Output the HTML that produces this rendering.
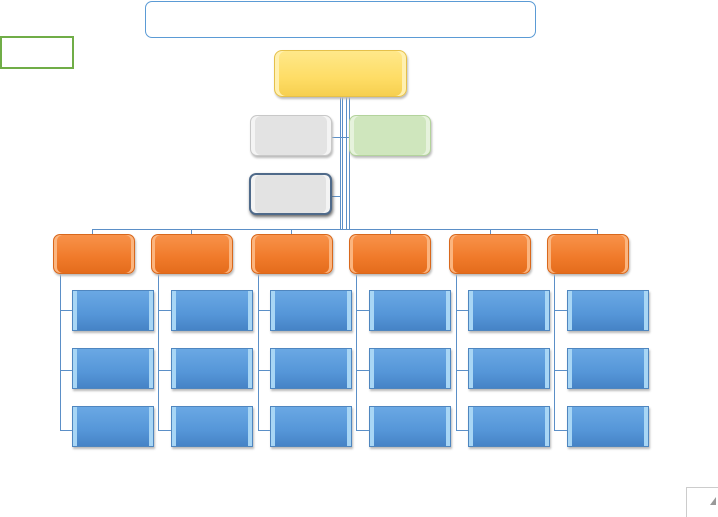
<!DOCTYPE html><html><head><style>
body{margin:0;width:718px;height:512px;background:#fff;position:relative;overflow:hidden}
div{position:absolute;box-sizing:border-box}
.l{background:#5b8fc7}
.o{background:linear-gradient(#f8924a,#f07a2a 60%,#e46c1c);border:1px solid #d9681c;border-radius:7px;box-shadow:inset 3px 0 0 #fbb57f,inset -3px 0 0 #fbb57f,1px 2px 2px #bbb;height:40px;width:82px;top:234px}
.b{background:linear-gradient(#6aa8e4,#5596d8 60%,#4683c6);border:1px solid #4f86bf;box-shadow:inset 4px 0 0 #a8d6f5,inset -4px 0 0 #a8d6f5,1px 2px 2px #bbb;height:41px;width:82px}
</style></head><body>
<div style="left:145px;top:1px;width:391px;height:37px;border:1px solid #5b9bd5;border-radius:7px"></div>
<div style="left:0;top:36px;width:74px;height:33px;border:2px solid #70ad47"></div>
<div class="l" style="left:340px;top:97px;width:1px;height:132px"></div>
<div class="l" style="left:342px;top:97px;width:1px;height:132px"></div>
<div class="l" style="left:346px;top:97px;width:1px;height:132px"></div>
<div class="l" style="left:349px;top:97px;width:1px;height:132px"></div>
<div class="l" style="left:331px;top:137px;width:18px;height:1px"></div>
<div class="l" style="left:331px;top:196px;width:10px;height:1px"></div>
<div style="left:274px;top:50px;width:133px;height:47px;border-radius:8px;background:linear-gradient(#ffe88a,#fedd66 60%,#f6cf4f);border:1px solid #e5c04a;box-shadow:inset 4px 0 0 #fff0b0,inset -4px 0 0 #fff0b0,1px 2px 2px #bbb"></div>
<div style="left:250px;top:115px;width:82px;height:41px;border-radius:7px;background:#e3e3e3;border:1px solid #c8c8c8;box-shadow:inset 4px 0 0 #f4f4f4,inset -4px 0 0 #f4f4f4,1px 2px 2px #bbb"></div>
<div style="left:349px;top:115px;width:82px;height:41px;border-radius:7px;background:#cfe6bd;border:1px solid #b3d39c;box-shadow:inset 4px 0 0 #e6f2dc,inset -4px 0 0 #e6f2dc,1px 2px 2px #bbb"></div>
<div style="left:249px;top:173px;width:83px;height:42px;border-radius:7px;background:#e3e3e3;border:2px solid #4f6a8a;box-shadow:inset 4px 0 0 #f4f4f4,inset -4px 0 0 #f4f4f4,1px 2px 3px #666"></div>
<div class="l" style="left:92px;top:229px;width:506px;height:1px"></div>
<div class="l" style="left:92px;top:229px;width:1px;height:6px"></div>
<div class="l" style="left:191px;top:229px;width:1px;height:6px"></div>
<div class="l" style="left:291px;top:229px;width:1px;height:6px"></div>
<div class="l" style="left:390px;top:229px;width:1px;height:6px"></div>
<div class="l" style="left:490px;top:229px;width:1px;height:6px"></div>
<div class="l" style="left:597px;top:229px;width:1px;height:6px"></div>
<div style="left:0;top:0;width:718px;height:512px">
<!-- columns -->
</div>
<div class="l" style="left:60px;top:274px;width:1px;height:157px"></div><div class="l" style="left:60px;top:310px;width:12px;height:1px"></div><div class="l" style="left:60px;top:370px;width:12px;height:1px"></div><div class="l" style="left:60px;top:430px;width:12px;height:1px"></div>
<div class="o" style="left:53px"></div><div class="b" style="left:72px;top:290px"></div><div class="b" style="left:72px;top:348px"></div><div class="b" style="left:72px;top:406px"></div>
<div class="l" style="left:158px;top:274px;width:1px;height:157px"></div><div class="l" style="left:158px;top:310px;width:13px;height:1px"></div><div class="l" style="left:158px;top:370px;width:13px;height:1px"></div><div class="l" style="left:158px;top:430px;width:13px;height:1px"></div>
<div class="o" style="left:151px"></div><div class="b" style="left:171px;top:290px"></div><div class="b" style="left:171px;top:348px"></div><div class="b" style="left:171px;top:406px"></div>
<div class="l" style="left:258px;top:274px;width:1px;height:157px"></div><div class="l" style="left:258px;top:310px;width:12px;height:1px"></div><div class="l" style="left:258px;top:370px;width:12px;height:1px"></div><div class="l" style="left:258px;top:430px;width:12px;height:1px"></div>
<div class="o" style="left:251px"></div><div class="b" style="left:270px;top:290px"></div><div class="b" style="left:270px;top:348px"></div><div class="b" style="left:270px;top:406px"></div>
<div class="l" style="left:356px;top:274px;width:1px;height:157px"></div><div class="l" style="left:356px;top:310px;width:13px;height:1px"></div><div class="l" style="left:356px;top:370px;width:13px;height:1px"></div><div class="l" style="left:356px;top:430px;width:13px;height:1px"></div>
<div class="o" style="left:349px"></div><div class="b" style="left:369px;top:290px"></div><div class="b" style="left:369px;top:348px"></div><div class="b" style="left:369px;top:406px"></div>
<div class="l" style="left:456px;top:274px;width:1px;height:157px"></div><div class="l" style="left:456px;top:310px;width:12px;height:1px"></div><div class="l" style="left:456px;top:370px;width:12px;height:1px"></div><div class="l" style="left:456px;top:430px;width:12px;height:1px"></div>
<div class="o" style="left:449px"></div><div class="b" style="left:468px;top:290px"></div><div class="b" style="left:468px;top:348px"></div><div class="b" style="left:468px;top:406px"></div>
<div class="l" style="left:554px;top:274px;width:1px;height:157px"></div><div class="l" style="left:554px;top:310px;width:13px;height:1px"></div><div class="l" style="left:554px;top:370px;width:13px;height:1px"></div><div class="l" style="left:554px;top:430px;width:13px;height:1px"></div>
<div class="o" style="left:547px"></div><div class="b" style="left:567px;top:290px"></div><div class="b" style="left:567px;top:348px"></div><div class="b" style="left:567px;top:406px"></div>
<div style="left:686px;top:487px;width:40px;height:30px;border-left:1px solid #ccc;border-top:1px solid #ccc"></div>
<div style="left:710px;top:497px;width:0;height:0;border-left:6px solid transparent;border-bottom:8px solid #999"></div>
</body></html>
